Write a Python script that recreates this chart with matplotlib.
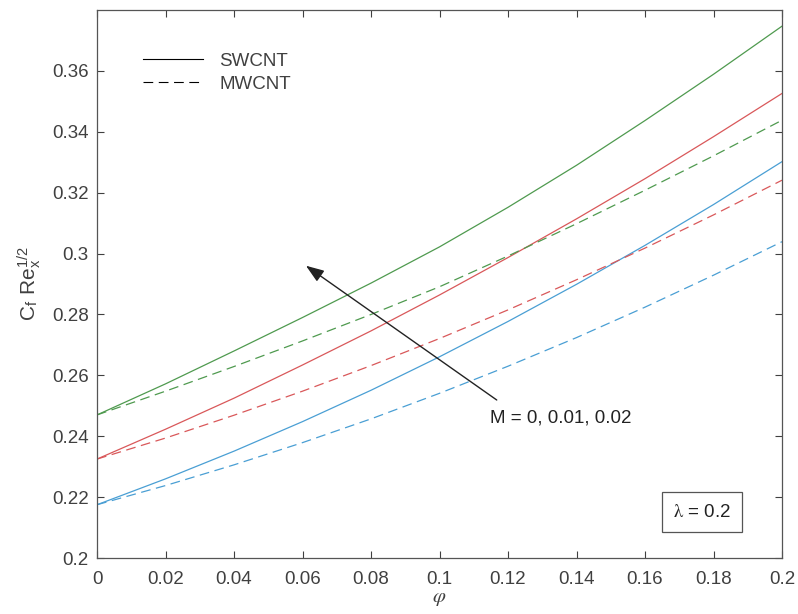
import matplotlib
matplotlib.use("Agg")
import matplotlib.pyplot as plt
from matplotlib.lines import Line2D
from matplotlib.ticker import FormatStrFormatter
import numpy as np

plt.rcParams['font.family'] = ['Liberation Sans', 'DejaVu Sans']
plt.rcParams['mathtext.fontset'] = 'stix'
plt.rcParams['lines.scale_dashes'] = False

# volume fraction
phi = [0, 0.02, 0.04, 0.06, 0.08, 0.10, 0.12, 0.14, 0.16, 0.18, 0.20]

# skin friction, SWCNT (solid) for M = 0, 0.01, 0.02
sw_m0 = [0.2175, 0.2260, 0.2351, 0.2448, 0.2551, 0.2661, 0.2777, 0.2899, 0.3027, 0.3161, 0.3302]
sw_m1 = [0.2325, 0.2423, 0.2525, 0.2634, 0.2746, 0.2864, 0.2987, 0.3114, 0.3246, 0.3384, 0.3526]
sw_m2 = [0.2470, 0.2572, 0.2680, 0.2790, 0.2903, 0.3022, 0.3152, 0.3290, 0.3437, 0.3589, 0.3747]

# skin friction, MWCNT (dashed)
mw_m0 = [0.2175, 0.2238, 0.2306, 0.2379, 0.2457, 0.2541, 0.2630, 0.2724, 0.2824, 0.2929, 0.3039]
mw_m1 = [0.2325, 0.2394, 0.2469, 0.2548, 0.2632, 0.2721, 0.2815, 0.2914, 0.3018, 0.3127, 0.3241]
mw_m2 = [0.2470, 0.2548, 0.2629, 0.2713, 0.2800, 0.2891, 0.2992, 0.3098, 0.3208, 0.3321, 0.3438]

colors = ['#4a9fd4', '#d9585a', '#4f9a4f']
dash = (0, (7, 4))
axcol = '#404040'
fs = 13.5

fig = plt.figure(figsize=(7.98, 6.14), dpi=100)
ax = fig.add_axes([0.1216, 0.0912, 0.8584, 0.8925])

for ys, c in zip([sw_m0, sw_m1, sw_m2], colors):
    ax.plot(phi, ys, color=c, lw=0.9)
for ys, c in zip([mw_m0, mw_m1, mw_m2], colors):
    ax.plot(phi, ys, color=c, lw=0.9, linestyle=dash)

ax.set_xlim(0, 0.2)
ax.set_ylim(0.2, 0.38)
ax.set_xticks(np.arange(0, 0.2001, 0.02))
ax.set_yticks(np.arange(0.2, 0.3601, 0.02))
ax.xaxis.set_major_formatter(FormatStrFormatter('%g'))
ax.yaxis.set_major_formatter(FormatStrFormatter('%g'))
ax.tick_params(direction='in', top=True, right=True, length=5, width=0.8,
               labelsize=fs, colors=axcol)
ax.tick_params(axis='x', pad=9)
ax.tick_params(axis='y', pad=6)
for s in ax.spines.values():
    s.set_color('#555555')
    s.set_linewidth(0.9)

ax.set_xlabel(r'$\varphi$', fontsize=15, color=axcol, labelpad=1)
ax.set_ylabel(r'C$_\mathregular{f}$ Re$_\mathregular{x}^\mathregular{1/2}$', fontsize=15,
              color=axcol, labelpad=6)

handles = [Line2D([], [], color='black', lw=0.8),
           Line2D([], [], color='black', lw=0.8, linestyle=dash)]
ax.legend(handles, ['SWCNT', 'MWCNT'], loc='upper left', frameon=False,
          bbox_to_anchor=(0.042, 0.953), fontsize=fs, handlelength=3.2,
          handletextpad=0.9, labelspacing=0.3, labelcolor=axcol)

ax.annotate('', xy=(0.061, 0.296), xytext=(0.1167, 0.2519),
            arrowprops=dict(arrowstyle='-|>,head_length=1.1,head_width=0.4',
                            color='#222222', lw=1.0, shrinkA=0, shrinkB=0))
ax.text(0.1147, 0.2459, 'M = 0, 0.01, 0.02', fontsize=fs, color='#222222',
        va='center', ha='left')

ax.text(0.1766, 0.2151, r'$\mathrm{\lambda}$ = 0.2', fontsize=fs, color='#222222',
        va='center', ha='center',
        bbox=dict(boxstyle='square,pad=0.6', fc='white', ec='#555555', lw=0.9))

fig.savefig('out.png', dpi=100)
